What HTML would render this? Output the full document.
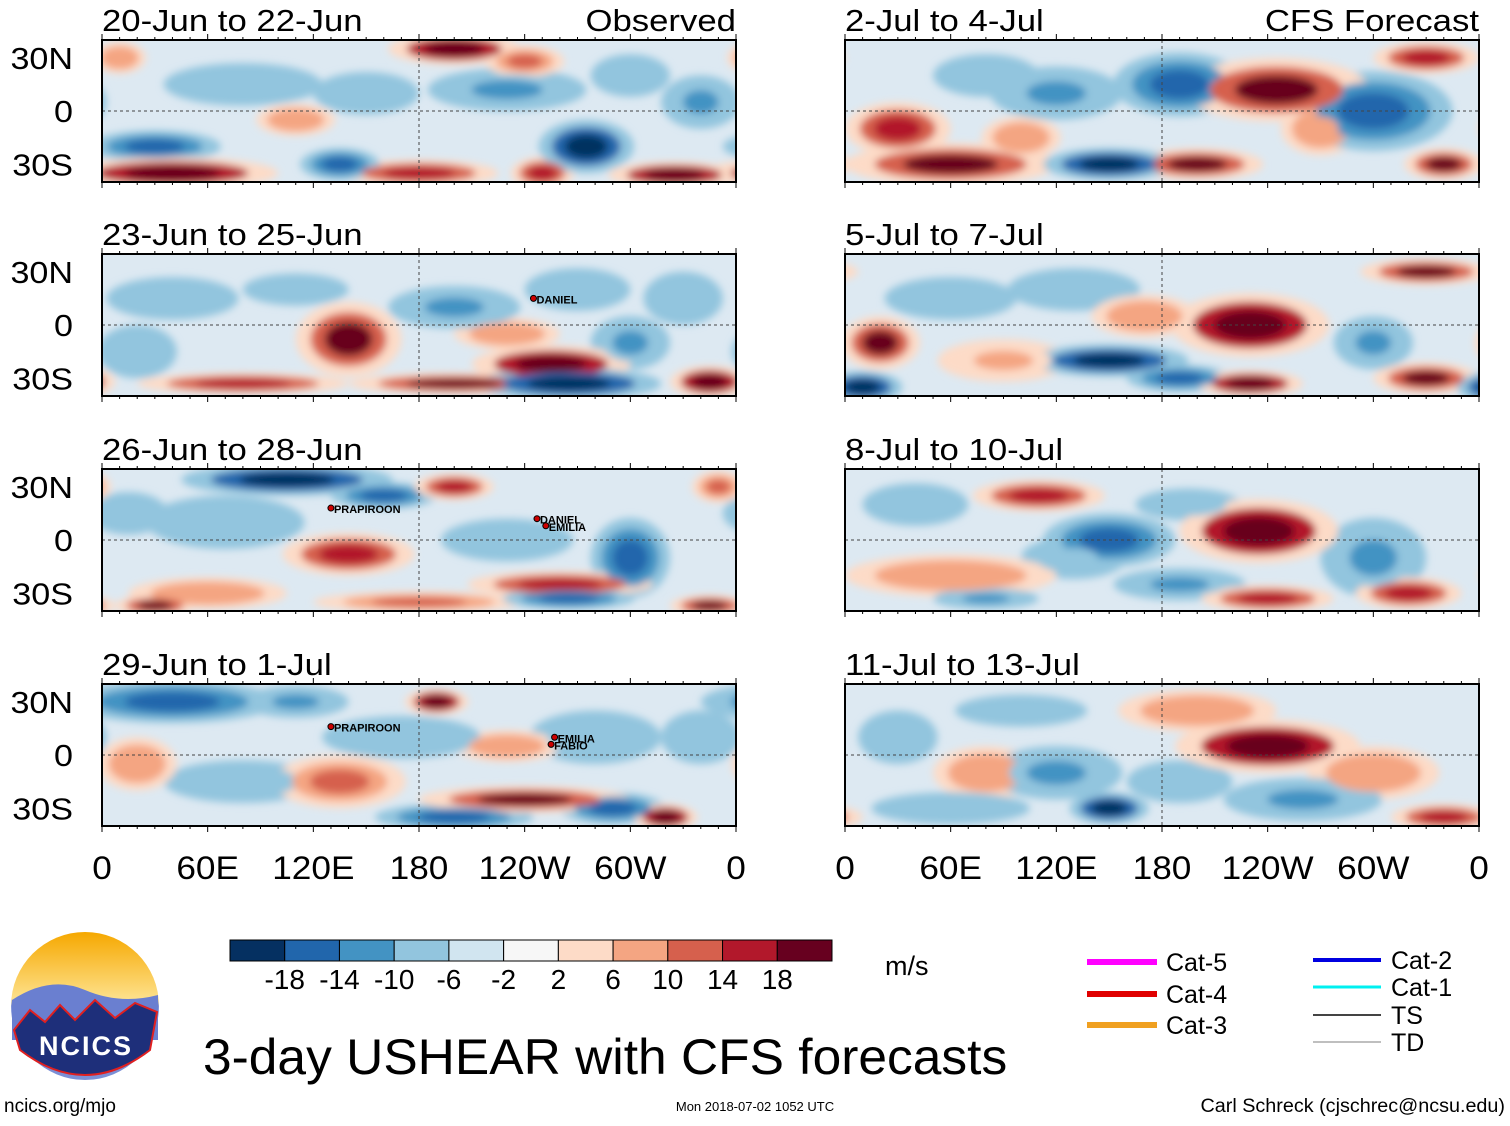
<!DOCTYPE html>
<html><head><meta charset="utf-8">
<style>
body{margin:0;background:#fff;width:1510px;height:1121px;overflow:hidden;font-family:"Liberation Sans",sans-serif;}
svg text{font-family:"Liberation Sans",sans-serif;}
</style></head><body>
<svg id="chart" width="1510" height="1121" viewBox="0 0 1510 1121" xmlns="http://www.w3.org/2000/svg">
<defs>
<filter id="blur" x="-20%" y="-20%" width="140%" height="140%"><feGaussianBlur stdDeviation="4"/></filter>
<linearGradient id="sky" x1="0" y1="0" x2="0" y2="1"><stop offset="0" stop-color="#f6a800"/><stop offset="0.45" stop-color="#fde08a"/><stop offset="0.5" stop-color="#7b8fd6"/></linearGradient>
</defs>
<g id="panels"></g>
<g id="colorbar"></g>
<g id="legend">
<line x1="1087" y1="962" x2="1157" y2="962" stroke="#ff00ff" stroke-width="6"/><text x="1166" y="971" font-size="25">Cat-5</text>
<line x1="1087" y1="994" x2="1157" y2="994" stroke="#e00000" stroke-width="6"/><text x="1166" y="1003" font-size="25">Cat-4</text>
<line x1="1087" y1="1025" x2="1157" y2="1025" stroke="#f0a020" stroke-width="6"/><text x="1166" y="1034" font-size="25">Cat-3</text>
<line x1="1313" y1="960" x2="1381" y2="960" stroke="#0000e0" stroke-width="4"/><text x="1391" y="969" font-size="25">Cat-2</text>
<line x1="1313" y1="987" x2="1381" y2="987" stroke="#00f0f0" stroke-width="3"/><text x="1391" y="996" font-size="25">Cat-1</text>
<line x1="1313" y1="1015" x2="1381" y2="1015" stroke="#444" stroke-width="2"/><text x="1391" y="1024" font-size="25">TS</text>
<line x1="1313" y1="1042" x2="1381" y2="1042" stroke="#aaa" stroke-width="1.5"/><text x="1391" y="1051" font-size="25">TD</text>
</g>
<g>
<circle cx="85" cy="1006" r="74" fill="url(#sky)"/>
<path d="M12,1000 Q50,975 85,990 T158,995 L158,1040 L12,1040Z" fill="#6a7fd0"/>
<path d="M14,1030 L30,1010 L45,1022 L60,1005 L75,1020 L95,1000 L115,1018 L135,1003 L157,1012 L150,1050 Q85,1100 20,1050Z" fill="#1e2f7a" stroke="#e02020" stroke-width="2"/>
<text x="86" y="1055" font-size="27" font-weight="bold" fill="#fff" text-anchor="middle" letter-spacing="2">NCICS</text>
</g>
<text class="sc" data-sc="1.03" x="203" y="1074" font-size="50">3-day USHEAR with CFS forecasts</text>
<text x="885" y="975" font-size="27">m/s</text>
<text x="4" y="1112" font-size="19">ncics.org/mjo</text>
<text x="755" y="1111" font-size="13" text-anchor="middle">Mon 2018-07-02 1052 UTC</text>
<text class="sc" data-sc="1.04" x="1505" y="1112" font-size="19" text-anchor="end">Carl Schreck (cjschrec@ncsu.edu)</text>
</svg>
<script>
const levels=[-18,-14,-10,-6,-2,2,6,10,14,18];
const colors=["#053061","#2166ac","#4393c3","#92c5de","#d1e5f0","#f7f7f7","#fddbc7","#f4a582","#d6604d","#b2182b","#67001f"];
const panelTitles=["20-Jun to 22-Jun","23-Jun to 25-Jun","26-Jun to 28-Jun","29-Jun to 1-Jul","2-Jul to 4-Jul","5-Jul to 7-Jul","8-Jul to 10-Jul","11-Jul to 13-Jul"];
const lonTicks=["0","60E","120E","180","120W","60W","0"];
const latTicks=["30N","0","30S"];
// blobs: [lon, lat, lonRadius(deg), latRadius(deg), value m/s]
const blobs0=[[40,-35,40,6,20],[30,-20,25,6,-12],[200,35,25,6,18],[135,-30,15,6,-14],[180,-35,30,5,12],[275,-20,18,10,-18],[250,-35,12,6,12],[325,-36,25,5,20],[230,12,30,8,-10],[240,28,15,6,10],[340,5,15,10,-10],[80,15,30,8,-6],[150,10,20,8,-6],[110,-5,15,6,8],[300,20,15,8,-8],[10,30,10,6,8]];
const blobs1=[[140,-8,20,14,16],[255,-22,30,7,18],[265,-33,35,6,-20],[200,-33,40,4,16],[80,-33,40,4,12],[345,-32,15,6,18],[40,15,25,8,-6],[110,20,20,6,-8],[200,10,25,8,-10],[270,20,20,8,-8],[330,15,15,10,-8],[230,-5,20,6,8],[20,-15,15,10,-6],[300,-10,15,10,-10]];
const blobs2=[[105,34,40,6,-18],[140,-8,25,8,14],[200,30,15,5,14],[160,25,20,5,-12],[260,-25,35,5,14],[265,-33,25,4,-14],[180,-35,40,4,10],[60,-30,30,6,8],[30,-37,15,4,16],[300,-10,15,15,-12],[230,0,25,8,-8],[70,10,30,10,-8],[345,-37,15,4,16],[15,15,15,8,-6],[350,30,10,6,10]];
const blobs3=[[40,30,40,8,-12],[110,30,20,6,-10],[190,30,12,5,18],[135,-15,25,10,10],[240,-25,40,5,16],[200,-35,30,5,-14],[290,-30,20,6,-12],[320,-35,12,5,18],[280,10,25,10,-8],[230,5,20,6,8],[80,-15,30,8,-6],[170,10,30,8,-8],[20,-5,15,10,8],[340,10,15,10,-8]];
const blobs4=[[245,12,35,12,16],[150,-30,25,6,-20],[200,-30,25,6,16],[60,-30,40,8,16],[30,-10,20,10,12],[120,10,25,10,-10],[190,15,25,12,-12],[300,0,30,15,-12],[340,-30,15,6,16],[80,20,20,8,-8],[270,-10,15,10,8],[330,30,20,6,12],[100,-15,15,8,8]];
const blobs5=[[230,0,30,12,18],[150,-20,30,6,-18],[190,-30,20,5,-14],[230,-33,20,5,18],[330,-30,20,6,16],[20,-10,15,10,16],[10,-35,15,6,-18],[330,30,25,5,16],[130,20,25,8,-8],[60,15,25,8,-8],[300,-10,15,10,-10],[170,5,20,8,8],[90,-20,25,8,6]];
const blobs6=[[235,5,30,12,18],[150,0,25,10,-12],[130,-10,20,8,-8],[60,-20,40,8,8],[190,-25,25,6,-10],[240,-33,25,5,14],[300,-10,20,15,-10],[320,-30,20,6,12],[110,25,25,6,12],[40,20,20,8,-6],[195,20,20,6,-8],[80,-33,20,4,-10]];
const blobs7=[[240,5,35,10,18],[150,-30,15,6,-18],[120,-10,25,10,-10],[80,-10,20,10,8],[190,-15,20,8,-8],[260,-25,30,8,-10],[300,-10,25,10,8],[340,-35,20,5,14],[60,-30,30,6,-8],[200,25,30,8,8],[100,25,25,6,-6],[30,10,15,10,-6]];
const allBlobs=[blobs0,blobs1,blobs2,blobs3,blobs4,blobs5,blobs6,blobs7];
const storms=[[],[["DANIEL",245,15]],[["PRAPIROON",130,18],["DANIEL",247,12],["EMILIA",252,8]],[["PRAPIROON",130,16],["EMILIA",257,10],["FABIO",255,6]],[],[],[],[]];

const NS="http://www.w3.org/2000/svg";
function mk(t,a,p){const e=document.createElementNS(NS,t);for(const k in a)e.setAttribute(k,a[k]);p.appendChild(e);return e;}
function colorOf(v){let i=0;while(i<levels.length&&v>levels[i])i++;return colors[i];}
const PW=634,PH=142,tops=[40,254,469,684],lefts=[102,845];
const panelsG=document.getElementById('panels');
for(let p=0;p<8;p++){
  const x0=lefts[Math.floor(p/4)],y0=tops[p%4];
  const xs=lon=>x0+lon/360*PW, ys=lat=>y0+PH/2-lat/80*PH;
  const sx=PW/360*1.5, sy=PH/80*1.5;
  const g=mk('g',{},panelsG);
  
  
  const cp=mk('clipPath',{id:'cp'+p},g);mk('rect',{x:x0,y:y0,width:PW,height:PH},cp);
  const inner=mk('g',{'clip-path':'url(#cp'+p+')'},g);
  mk('rect',{x:x0,y:y0,width:PW,height:PH,fill:'#dde9f2'},inner);
  const bg=mk('g',{filter:'url(#blur)'},inner);
  const sorted=allBlobs[p].slice().sort((a,b)=>Math.abs(a[4])-Math.abs(b[4]));
  [1,0.72,0.45].forEach((f,k)=>{
    sorted.forEach(b=>{
      const s=Math.sign(b[4]),a=Math.abs(b[4]);
      const v=k==0?s*Math.min(a,6):k==1?s*Math.max(Math.min(a,6),a*0.85):s*Math.max(Math.min(a,6),a*1.2);
      [0,-360,360].forEach(sh=>{
        const e=mk('ellipse',{cx:xs(b[0]+sh),cy:ys(b[1]),rx:b[2]*sx*f,ry:b[3]*sy*f,fill:colorOf(v)},bg);
        
        
      });
    });
  });
  mk('line',{x1:x0,y1:ys(0),x2:x0+PW,y2:ys(0),stroke:'#444','stroke-dasharray':'3,3','stroke-width':1},g);
  mk('line',{x1:xs(180),y1:y0,x2:xs(180),y2:y0+PH,stroke:'#444','stroke-dasharray':'3,3','stroke-width':1},g);
  mk('rect',{x:x0,y:y0,width:PW,height:PH,fill:'none',stroke:'#000','stroke-width':2},g);
  for(let l=0;l<=360;l+=10){const L=l%60==0?6:3;mk('line',{x1:xs(l),y1:y0,x2:xs(l),y2:y0-L,stroke:'#000'},g);mk('line',{x1:xs(l),y1:y0+PH,x2:xs(l),y2:y0+PH+L,stroke:'#000'},g);}
  const t=mk('text',{x:x0,y:y0-9,'font-size':31,class:'sc','data-sc':'1.12'},g);t.textContent=panelTitles[p];
  
  if(p==0){const r=mk('text',{x:x0+PW,y:y0-9,'font-size':31,'text-anchor':'end',class:'sc','data-sc':'1.12'},g);r.textContent='Observed';}
  if(p==4){const r=mk('text',{x:x0+PW,y:y0-9,'font-size':31,'text-anchor':'end',class:'sc','data-sc':'1.12'},g);r.textContent='CFS Forecast';}
  if(p<4){[30,0,-30].forEach((la,i)=>{const tt=mk('text',{x:73,y:ys(la)+11,'font-size':31,'text-anchor':'end',class:'sc','data-sc':'1.1'},g);tt.textContent=latTicks[i];
    });}
  storms[p].forEach(s=>{mk('circle',{cx:xs(s[1]),cy:ys(s[2]),r:3,fill:'#c00',stroke:'#000'},g);
    const st=mk('text',{x:xs(s[1])+3,y:ys(s[2])+5,'font-size':11,'font-weight':'bold'},g);st.textContent=s[0];
    });
  if(p%4==3){lonTicks.forEach((lt,i)=>{const tt=mk('text',{x:xs(i*60),y:879,'font-size':32,'text-anchor':'middle',class:'sc','data-sc':'1.1'},g);tt.textContent=lt;
    });}
}
const cb=document.getElementById('colorbar');


const cbx=230,cbw=602/colors.length;
colors.forEach((c,i)=>{mk('rect',{x:cbx+i*cbw,y:940,width:cbw,height:21,fill:c,stroke:'#000'},cb);});
levels.forEach((l,i)=>{const t=mk('text',{x:cbx+(i+1)*cbw,y:989,'font-size':28,'text-anchor':'middle'},cb);t.textContent=l;
  });
document.querySelectorAll('text.sc').forEach(t=>{const w=t.getComputedTextLength();t.setAttribute('textLength',w*parseFloat(t.getAttribute('data-sc')));t.setAttribute('lengthAdjust','spacingAndGlyphs');});
</script>
</body></html>
